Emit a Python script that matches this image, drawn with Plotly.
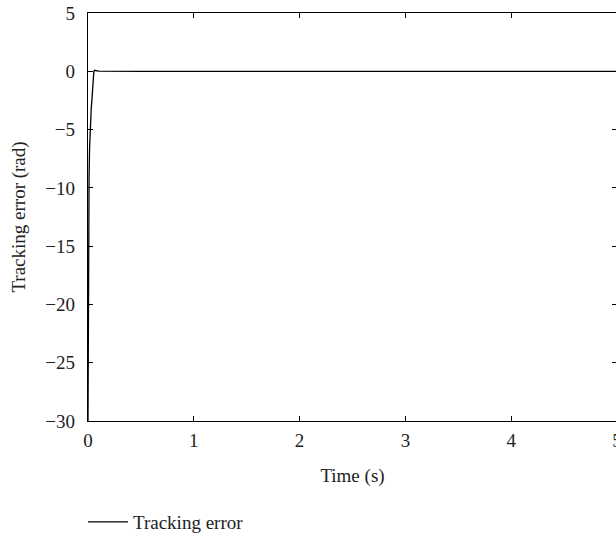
import plotly.graph_objects as go

time_s = [0, 0.001, 0.002, 0.004, 0.006, 0.008, 0.01, 0.015, 0.02, 0.03, 0.038, 0.047, 0.055, 0.06, 0.07, 0.08, 0.1, 0.5, 1, 2, 3, 4, 5]
tracking_error = [-30, -26, -22, -17, -13.5, -11, -9, -6.6, -5, -3.3, -2.3, -0.7, -0.05, 0.08, 0.06, 0.03, 0.01, 0, 0, 0, 0, 0, 0]

x_ticks = [0, 1, 2, 3, 4, 5]
y_ticks = [5, 0, -5, -10, -15, -20, -25, -30]

FONT = "Liberation Serif"
FS = 19

fig = go.Figure()
fig.add_trace(go.Scatter(
    x=time_s, y=tracking_error, mode="lines", name="Tracking error",
    line=dict(color="black", width=1.3),
))

axis_common = dict(
    showgrid=False, zeroline=False, showline=True, linecolor="black", linewidth=1.3,
    mirror="allticks", ticks="inside", ticklen=5, tickwidth=1, tickcolor="black",
    tickfont=dict(family=FONT, size=FS, color="#222"), automargin=False,
)

fig.update_layout(
    width=617, height=541,
    margin=dict(l=88, r=0, t=13, b=111),
    plot_bgcolor="white", paper_bgcolor="white",
    font=dict(family=FONT, size=FS, color="#222"),
    xaxis=dict(range=[0, 5], tickvals=x_ticks, ticklabelstandoff=2, ticklabeloverflow="allow",
               title=dict(text="Time (s)", font=dict(family=FONT, size=FS), standoff=18),
               **axis_common),
    yaxis=dict(range=[-30, 5], tickvals=y_ticks, ticklabelstandoff=8, ticklabeloverflow="allow",
               title=dict(text="Tracking error (rad)", font=dict(family=FONT, size=FS), standoff=14),
               **axis_common),
    showlegend=True,
    legend=dict(orientation="h", x=-0.0095, xanchor="left", y=-0.202, yanchor="top",
                font=dict(family=FONT, size=FS), bgcolor="rgba(0,0,0,0)", itemwidth=40),
)

# remove the default 8px page margin so the figure fills the window exactly
fig.write_html("out.html", config={"displayModeBar": False},
               post_script="document.body.style.margin='0';")
